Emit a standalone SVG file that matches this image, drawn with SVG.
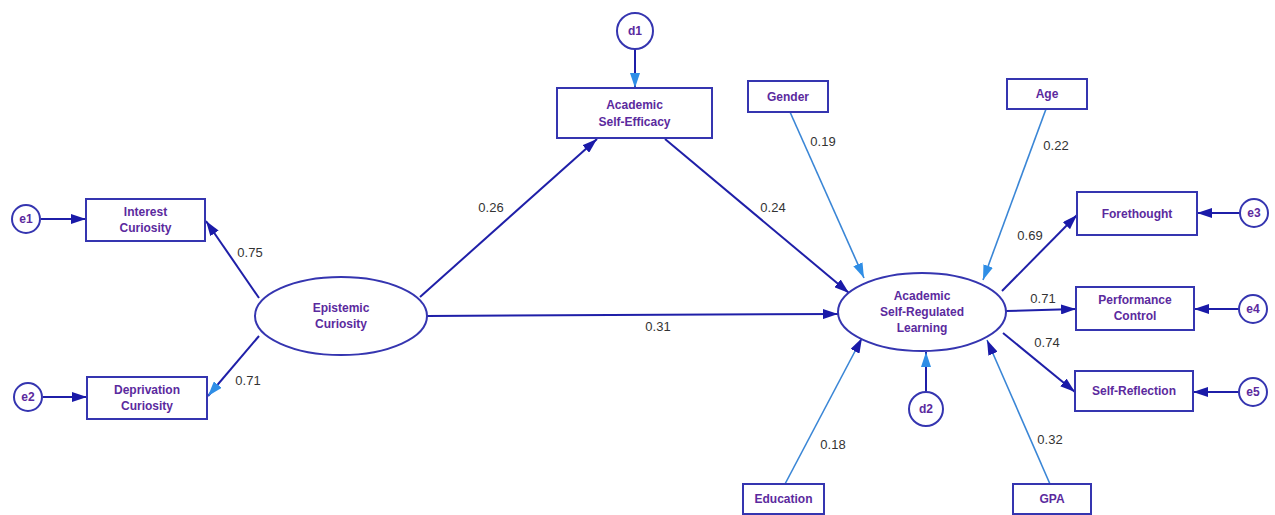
<svg xmlns="http://www.w3.org/2000/svg" width="1275" height="515" viewBox="0 0 1275 515">
<style>
.box{fill:#fff;stroke:#3535b0;stroke-width:2}
.t{font-family:"Liberation Sans",Arial,sans-serif;font-weight:bold;font-size:12px;fill:#5b2a9e;text-anchor:middle}
.lbl{font-family:"Liberation Sans",Arial,sans-serif;font-size:13px;fill:#333;text-anchor:middle}
.dk{stroke:#1f1fa8;stroke-width:2;fill:none}
.lt{stroke:#3a86d6;stroke-width:1.6;fill:none}
</style>
<defs>
<marker id="ad" viewBox="0 0 15 10" refX="15" refY="5" markerWidth="15" markerHeight="10" markerUnits="userSpaceOnUse" orient="auto"><path d="M0,0L15,5L0,10Z" fill="#1a1aa8"/></marker>
<marker id="al" viewBox="0 0 15 10" refX="15" refY="5" markerWidth="15" markerHeight="10" markerUnits="userSpaceOnUse" orient="auto"><path d="M0,0L15,5L0,10Z" fill="#2f8ee6"/></marker>
</defs>
<rect width="1275" height="515" fill="#fff"/>
<g id="connectors">
<line class="dk" x1="41" y1="219" x2="86" y2="219" marker-end="url(#ad)"/>
<line class="dk" x1="43" y1="397" x2="87" y2="397" marker-end="url(#ad)"/>
<line class="dk" x1="259" y1="298" x2="206" y2="221" marker-end="url(#ad)"/>
<line class="dk" x1="259" y1="336" x2="208" y2="396" marker-end="url(#al)"/>
<line class="dk" x1="420" y1="297" x2="597" y2="139" marker-end="url(#ad)"/>
<line class="dk" x1="427" y1="316" x2="838" y2="314" marker-end="url(#ad)"/>
<line class="dk" x1="665" y1="139" x2="849" y2="293" marker-end="url(#ad)"/>
<line class="lt" x1="790" y1="112" x2="864" y2="278" marker-end="url(#al)"/>
<line class="lt" x1="1046" y1="109" x2="983" y2="280" marker-end="url(#al)"/>
<line class="dk" x1="635" y1="50" x2="635" y2="88" marker-end="url(#al)"/>
<line class="dk" x1="1002" y1="291" x2="1077" y2="215" marker-end="url(#ad)"/>
<line class="dk" x1="1006" y1="311" x2="1076" y2="309" marker-end="url(#ad)"/>
<line class="dk" x1="1003" y1="333" x2="1075" y2="392" marker-end="url(#ad)"/>
<line class="dk" x1="1240" y1="213" x2="1197" y2="213" marker-end="url(#ad)"/>
<line class="dk" x1="1239" y1="309" x2="1194" y2="309" marker-end="url(#ad)"/>
<line class="dk" x1="1239" y1="392" x2="1193" y2="392" marker-end="url(#ad)"/>
<line class="dk" x1="926" y1="392" x2="926" y2="352" marker-end="url(#al)"/>
<line class="lt" x1="785" y1="484" x2="862" y2="338" marker-end="url(#ad)"/>
<line class="lt" x1="1050" y1="484" x2="987" y2="340" marker-end="url(#ad)"/>
<text class="lbl" x="250" y="257">0.75</text>
<text class="lbl" x="248" y="385">0.71</text>
<text class="lbl" x="491" y="212">0.26</text>
<text class="lbl" x="658" y="331">0.31</text>
<text class="lbl" x="773" y="212">0.24</text>
<text class="lbl" x="823" y="146">0.19</text>
<text class="lbl" x="1056" y="150">0.22</text>
<text class="lbl" x="1030" y="240">0.69</text>
<text class="lbl" x="1043" y="303">0.71</text>
<text class="lbl" x="1047" y="347">0.74</text>
<text class="lbl" x="833" y="449">0.18</text>
<text class="lbl" x="1050" y="444">0.32</text>
</g>
<g id="e1"><circle class="box" cx="26" cy="219" r="14"/><text class="t" x="26" y="223">e1</text></g>
<g id="e2"><circle class="box" cx="28" cy="397" r="14"/><text class="t" x="28" y="401">e2</text></g>
<g id="interest"><rect class="box" x="86" y="199" width="119" height="42"/><text class="t" x="145.5" y="216">Interest</text><text class="t" x="145.5" y="232">Curiosity</text></g>
<g id="deprivation"><rect class="box" x="87" y="377" width="120" height="42"/><text class="t" x="147" y="394">Deprivation</text><text class="t" x="147" y="410">Curiosity</text></g>
<g id="epistemic"><ellipse class="box" cx="341" cy="316" rx="86" ry="39"/><text class="t" x="341" y="312">Epistemic</text><text class="t" x="341" y="328">Curiosity</text></g>
<g id="d1"><circle class="box" cx="635" cy="31" r="18"/><text class="t" x="635" y="35">d1</text></g>
<g id="ase"><rect class="box" x="557" y="88" width="155" height="50"/><text class="t" x="634.5" y="109">Academic</text><text class="t" x="634.5" y="126">Self-Efficacy</text></g>
<g id="gender"><rect class="box" x="748" y="81" width="80" height="31"/><text class="t" x="788" y="101">Gender</text></g>
<g id="age"><rect class="box" x="1007" y="79" width="80" height="30"/><text class="t" x="1047" y="98">Age</text></g>
<g id="asrl"><ellipse class="box" cx="922" cy="312" rx="84" ry="39"/><text class="t" x="922" y="300">Academic</text><text class="t" x="922" y="316">Self-Regulated</text><text class="t" x="922" y="332">Learning</text></g>
<g id="d2"><circle class="box" cx="926" cy="409" r="17"/><text class="t" x="926" y="413">d2</text></g>
<g id="forethought"><rect class="box" x="1077" y="192" width="120" height="43"/><text class="t" x="1137" y="218">Forethought</text></g>
<g id="performance"><rect class="box" x="1076" y="287" width="118" height="43"/><text class="t" x="1135" y="304">Performance</text><text class="t" x="1135" y="320">Control</text></g>
<g id="selfreflection"><rect class="box" x="1075" y="371" width="118" height="40"/><text class="t" x="1134" y="395">Self-Reflection</text></g>
<g id="e3"><circle class="box" cx="1254" cy="213" r="14"/><text class="t" x="1254" y="217">e3</text></g>
<g id="e4"><circle class="box" cx="1253" cy="309" r="14"/><text class="t" x="1253" y="313">e4</text></g>
<g id="e5"><circle class="box" cx="1253" cy="392" r="14"/><text class="t" x="1253" y="396">e5</text></g>
<g id="education"><rect class="box" x="743" y="484" width="81" height="30"/><text class="t" x="783.5" y="503">Education</text></g>
<g id="gpa"><rect class="box" x="1013" y="484" width="78" height="30"/><text class="t" x="1052" y="503">GPA</text></g>
</svg>
